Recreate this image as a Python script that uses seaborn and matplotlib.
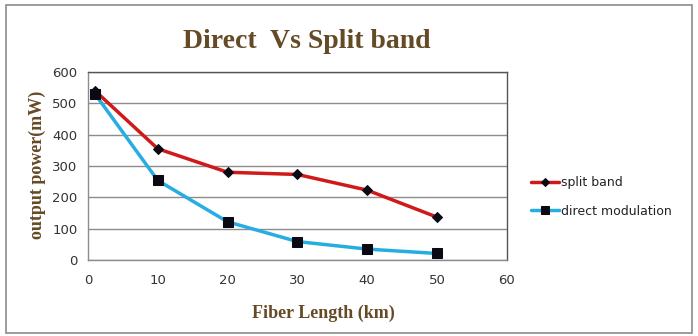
import pandas as pd
import seaborn as sns
from matplotlib import pyplot as plt
from matplotlib.patches import Rectangle

# values
fiber_length = [1, 10, 20, 30, 40, 50]
split_band = [540, 355, 280, 273, 223, 137]
direct_modulation = [530, 254, 122, 59, 35, 21]
series_names = ['split band', 'direct modulation']

df = pd.DataFrame({
    'length': fiber_length * 2,
    'power': split_band + direct_modulation,
    'series': [series_names[0]] * 6 + [series_names[1]] * 6,
})

sns.set_style('white')
brown = '#654a26'

fig = plt.figure(figsize=(6.98, 3.36), dpi=100)
ax = fig.add_axes([0.126, 0.226, 0.60, 0.56])

palette = {'split band': '#d01a1a', 'direct modulation': '#27aee0'}
sns.lineplot(data=df, x='length', y='power', hue='series', style='series',
             markers={'split band': 'D', 'direct modulation': 's'}, dashes=False,
             palette=palette, linewidth=2.5, markersize=7,
             markerfacecolor='#0a0a14', markeredgecolor='#0a0a14', ax=ax)
# smaller diamonds for split band
ax.lines[0].set_markersize(5.5)

ax.set_xlim(0, 60)
ax.set_ylim(0, 600)
ax.set_xticks(range(0, 61, 10))
ax.set_yticks(range(0, 601, 100))
ax.yaxis.grid(True, color='#8c8c8c', linewidth=1)
ax.set_axisbelow(True)
for s in ['top', 'right']:
    ax.spines[s].set_color('#555555')
for s in ['left', 'bottom']:
    ax.spines[s].set_color('#8c8c8c')
for s in ax.spines.values():
    s.set_linewidth(1)
ax.tick_params(axis='both', direction='out', length=4, color='#8c8c8c',
               labelsize=9.5, labelcolor='#333333', width=1)
ax.tick_params(axis='x', pad=6)

ax.set_xlabel('')
ax.set_ylabel('')
fig.text(0.463, 0.068, 'Fiber Length (km)', ha='center', va='center',
         family='Liberation Serif', fontweight='bold', fontsize=13,
         color=brown)
fig.text(0.053, 0.51, 'output power(mW)', ha='center', va='center',
         rotation=90, family='Liberation Serif', fontweight='bold',
         fontsize=13, color=brown)
fig.text(0.44, 0.875, 'Direct  Vs Split band', ha='center', va='center',
         family='Liberation Serif', fontweight='bold', fontsize=20,
         color=brown)

leg = ax.legend(loc='center left', bbox_to_anchor=(1.03, 0.335), frameon=False,
                fontsize=9, handlelength=2.3, labelspacing=1.25, handletextpad=0.15)
for t in leg.get_texts():
    t.set_color('#222222')
for h, ms in zip(leg.legend_handles, [4.5, 5.5]):
    h.set_markersize(ms)

fig.patches.append(Rectangle((0.0086, 0.01), 0.983, 0.975, transform=fig.transFigure,
                             fill=False, edgecolor='#8a8a8a', linewidth=1.2))

plt.savefig('out.png', dpi=100)
